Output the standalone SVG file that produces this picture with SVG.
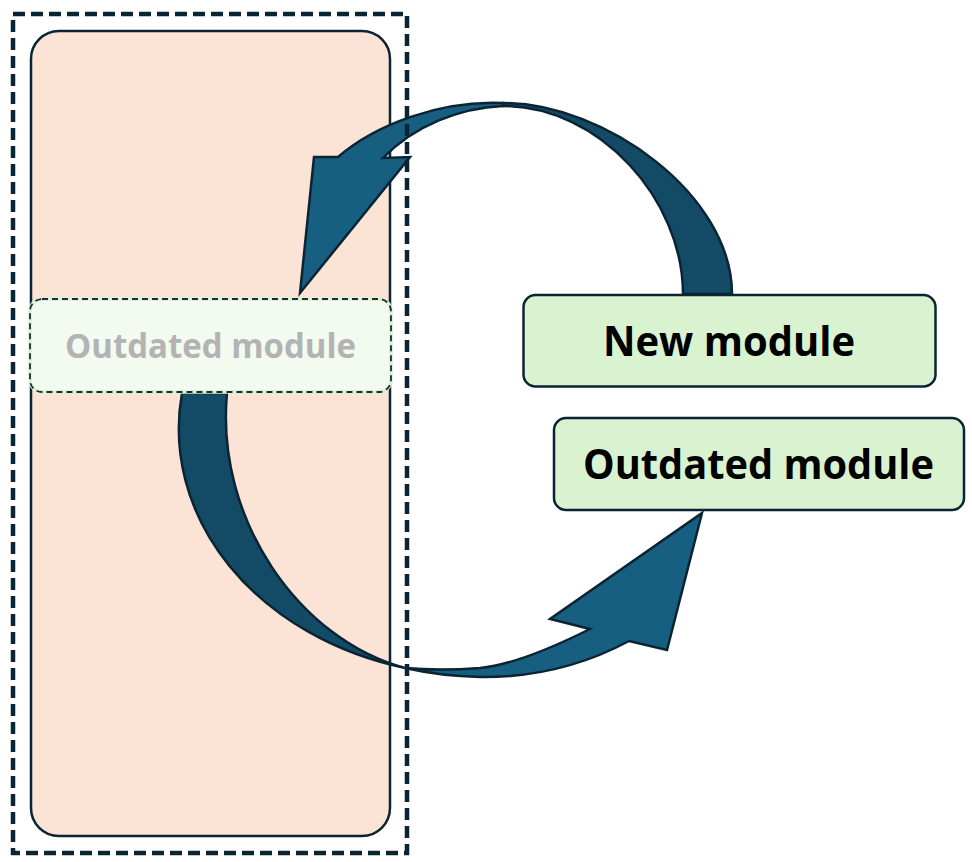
<svg xmlns="http://www.w3.org/2000/svg" width="972" height="862" viewBox="0 0 972 862">
  <style>
    .lbl { font-family: "Open Sans", "Noto Sans", "Liberation Sans", sans-serif; font-weight: bold; text-anchor: middle; }
    .box { fill: #d9f2d0; stroke: #0b2433; stroke-width: 2.5; }
    .arrL { fill: #175f80; stroke: #0b2433; stroke-width: 2.5; stroke-linejoin: miter; }
    .arrD { fill: #134b66; stroke: #0b2433; stroke-width: 2.5; stroke-linejoin: miter; }
  </style>
  <rect width="972" height="862" fill="#ffffff"/>

  <g id="legacy-container">
    <rect x="31" y="31" width="359" height="805" rx="28" ry="28" fill="#fbe3d6" stroke="#0b2433" stroke-width="2.5"/>
  </g>

  <g id="connectors">
    <!-- top curved arrow: New module -> faded slot -->
    <path class="arrD" d="M 503,103 C 605,103 732,195 732,294 L 683,294 C 683,200 600,106 503,106 Z"/>
    <path class="arrL" d="M 503,103 C 440,100 375,125 338,157 L 314,157 L 300,293 L 410,157 L 383,158 C 415,125 460,108 503,106 Z"/>
    <!-- bottom curved arrow: faded slot -> Outdated module -->
    <path class="arrD" d="M 182,393 A 301 247 0 0 0 405,668 C 300,640 215,520 227,393 Z"/>
    <path class="arrL" d="M 405,668 Q 440,676 480,677 Q 560,678 629,641 L 667,650 L 702,513 L 550,619 L 590,629 Q 520,664 480,668 Q 440,671 405,668 Z"/>
  </g>

  <g id="faded-outdated-module">
    <rect x="30" y="299" width="361" height="93" rx="12" ry="12" fill="#f3faef" stroke="#d9f2d0" stroke-width="3.5"/>
    <rect x="30" y="299" width="361" height="93" rx="12" ry="12" fill="none" stroke="#1b2c38" stroke-width="1.8" stroke-dasharray="6 4"/>
    <text class="lbl" x="210.5" y="358" font-size="34" fill="#b3b3b3" textLength="291" lengthAdjust="spacingAndGlyphs">Outdated module</text>
  </g>

  <g id="container-border">
    <rect x="13" y="14" width="394" height="839" fill="none" stroke="#0b2433" stroke-width="4.5" stroke-dasharray="12 6"/>
  </g>

  <g id="new-module">
    <rect class="box" x="523.5" y="295" width="412" height="91.5" rx="12" ry="12"/>
    <text class="lbl" x="729" y="356" font-size="41" fill="#000000" textLength="252" lengthAdjust="spacingAndGlyphs">New module</text>
  </g>

  <g id="outdated-module">
    <rect class="box" x="554" y="418" width="410" height="92" rx="12" ry="12"/>
    <text class="lbl" x="758.5" y="479" font-size="41" fill="#000000" textLength="351" lengthAdjust="spacingAndGlyphs">Outdated module</text>
  </g>
</svg>
